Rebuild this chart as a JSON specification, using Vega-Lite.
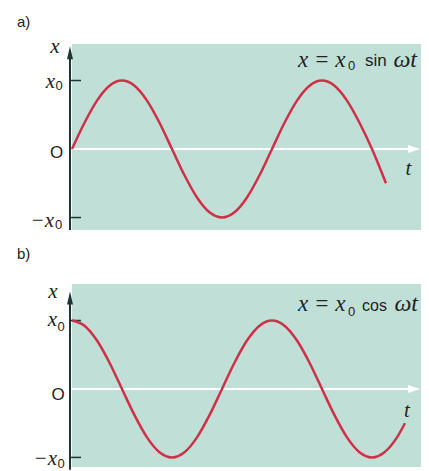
{
  "$schema": "https://vega.github.io/schema/vega-lite/v6.json",
  "padding": {"left": 10, "top": 5, "right": 8, "bottom": 0},
  "background": "white",
  "bounds": "flush",
  "spacing": 54,
  "config": {
    "view": {"fill": "#c0e0d7", "stroke": null}
  },
  "datasets": {
    "sine": [
      {"t": 0, "v": 0}, {"t": 0.25, "v": 0.383}, {"t": 0.5, "v": 0.707}, {"t": 0.75, "v": 0.924},
      {"t": 1, "v": 1}, {"t": 1.25, "v": 0.924}, {"t": 1.5, "v": 0.707}, {"t": 1.75, "v": 0.383},
      {"t": 2, "v": 0}, {"t": 2.25, "v": -0.383}, {"t": 2.5, "v": -0.707}, {"t": 2.75, "v": -0.924},
      {"t": 3, "v": -1}, {"t": 3.25, "v": -0.924}, {"t": 3.5, "v": -0.707}, {"t": 3.75, "v": -0.383},
      {"t": 4, "v": 0}, {"t": 4.25, "v": 0.383}, {"t": 4.5, "v": 0.707}, {"t": 4.75, "v": 0.924},
      {"t": 5, "v": 1}, {"t": 5.25, "v": 0.924}, {"t": 5.5, "v": 0.707}, {"t": 5.75, "v": 0.383},
      {"t": 6, "v": 0}, {"t": 6.28, "v": -0.5}
    ],
    "cosine": [
      {"t": 0, "v": 1}, {"t": 0.25, "v": 0.924}, {"t": 0.5, "v": 0.707}, {"t": 0.75, "v": 0.383},
      {"t": 1, "v": 0}, {"t": 1.25, "v": -0.383}, {"t": 1.5, "v": -0.707}, {"t": 1.75, "v": -0.924},
      {"t": 2, "v": -1}, {"t": 2.25, "v": -0.924}, {"t": 2.5, "v": -0.707}, {"t": 2.75, "v": -0.383},
      {"t": 3, "v": 0}, {"t": 3.25, "v": 0.383}, {"t": 3.5, "v": 0.707}, {"t": 3.75, "v": 0.924},
      {"t": 4, "v": 1}, {"t": 4.25, "v": 0.924}, {"t": 4.5, "v": 0.707}, {"t": 4.75, "v": 0.383},
      {"t": 5, "v": 0}, {"t": 5.25, "v": -0.383}, {"t": 5.5, "v": -0.707}, {"t": 5.75, "v": -0.924},
      {"t": 6, "v": -1}, {"t": 6.25, "v": -0.924}, {"t": 6.5, "v": -0.707}, {"t": 6.66, "v": -0.5}
    ]
  },
  "vconcat": [
    {
      "width": 349,
      "height": 186,
      "layer": [
        {
          "data": {"values": [{}]},
          "mark": {"type": "rule", "color": "#ffffff", "strokeWidth": 2},
          "encoding": {
            "x": {"datum": 0, "type": "quantitative", "scale": {"domain": [0, 6.98], "nice": false, "zero": false}, "axis": null},
            "x2": {"datum": 6.76},
            "y": {"datum": 0, "type": "quantitative", "scale": {"domain": [-1.182, 1.533], "nice": false, "zero": false}, "axis": null}
          }
        },
        {
          "data": {"values": [{}]},
          "mark": {"type": "rule", "color": "#ffffff", "opacity": 0, "strokeWidth": 1},
          "encoding": {"x": {"datum": -1.23, "type": "quantitative"}, "y": {"datum": -1.182, "type": "quantitative"}, "y2": {"datum": 2.095}}
        },
        {
          "data": {"values": [{}]},
          "mark": {"type": "point", "shape": "M-1,-0.67L1,0L-1,0.67Z", "size": 144, "filled": true, "color": "#ffffff", "opacity": 1},
          "encoding": {"x": {"datum": 6.84, "type": "quantitative"}, "y": {"datum": 0, "type": "quantitative"}}
        },
        {
          "data": {"values": [{}]},
          "mark": {"type": "rule", "color": "#1f3535", "strokeWidth": 2},
          "encoding": {"x": {"datum": -0.04, "type": "quantitative"}, "y": {"datum": -1.182, "type": "quantitative"}, "y2": {"datum": 1.42}}
        },
        {
          "data": {"values": [{"v": 1}, {"v": -1}]},
          "mark": {"type": "rule", "color": "#1f3535", "strokeWidth": 1.5},
          "encoding": {"x": {"datum": -0.04, "type": "quantitative"}, "x2": {"datum": 0.18}, "y": {"field": "v", "type": "quantitative"}}
        },
        {
          "data": {"values": [{}]},
          "mark": {"type": "point", "shape": "M0,-1L0.46,1L-0.46,1Z", "size": 169, "filled": true, "color": "#1f3535", "opacity": 1},
          "encoding": {"x": {"datum": -0.04, "type": "quantitative"}, "y": {"datum": 1.405, "type": "quantitative"}}
        },
        {
          "data": {"name": "sine"},
          "mark": {"type": "line", "color": "#cf3048", "strokeWidth": 2.5, "interpolate": "monotone"},
          "encoding": {"x": {"field": "t", "type": "quantitative"}, "y": {"field": "v", "type": "quantitative"}}
        },
        {
          "data": {"values": [{}]},
          "layer": [
            {"mark": {"type": "text", "text": "a)", "font": "Liberation Sans", "fontSize": 15, "align": "left", "baseline": "alphabetic", "color": "#222222"},
             "encoding": {"x": {"datum": -1.1, "type": "quantitative"}, "y": {"datum": 1.781, "type": "quantitative"}}},
            {"mark": {"type": "text", "text": "x", "font": "Liberation Serif", "fontStyle": "italic", "fontSize": 21, "align": "center", "baseline": "alphabetic", "color": "#222222"},
             "encoding": {"x": {"datum": -0.34, "type": "quantitative"}, "y": {"datum": 1.402, "type": "quantitative"}}},
            {"mark": {"type": "text", "text": "x", "font": "Liberation Serif", "fontStyle": "italic", "fontSize": 21, "align": "right", "baseline": "alphabetic", "color": "#222222"},
             "encoding": {"x": {"datum": -0.34, "type": "quantitative"}, "y": {"datum": 0.891, "type": "quantitative"}}},
            {"mark": {"type": "text", "text": "0", "font": "Liberation Sans", "fontSize": 13, "align": "left", "baseline": "alphabetic", "color": "#222222"},
             "encoding": {"x": {"datum": -0.33, "type": "quantitative"}, "y": {"datum": 0.861, "type": "quantitative"}}},
            {"mark": {"type": "text", "text": "O", "font": "Liberation Sans", "fontSize": 17, "align": "center", "baseline": "alphabetic", "color": "#222222"},
             "encoding": {"x": {"datum": -0.31, "type": "quantitative"}, "y": {"datum": -0.131, "type": "quantitative"}}},
            {"mark": {"type": "text", "text": "−x", "font": "Liberation Serif", "fontStyle": "italic", "fontSize": 21, "align": "right", "baseline": "alphabetic", "color": "#222222"},
             "encoding": {"x": {"datum": -0.36, "type": "quantitative"}, "y": {"datum": -1.139, "type": "quantitative"}}},
            {"mark": {"type": "text", "text": "0", "font": "Liberation Sans", "fontSize": 13, "align": "left", "baseline": "alphabetic", "color": "#222222"},
             "encoding": {"x": {"datum": -0.34, "type": "quantitative"}, "y": {"datum": -1.168, "type": "quantitative"}}},
            {"mark": {"type": "text", "text": "t", "font": "Liberation Serif", "fontStyle": "italic", "fontSize": 21, "align": "center", "baseline": "alphabetic", "color": "#222222"},
             "encoding": {"x": {"datum": 6.73, "type": "quantitative"}, "y": {"datum": -0.379, "type": "quantitative"}}},
            {"mark": {"type": "text", "text": "x = x", "font": "Liberation Serif", "fontStyle": "italic", "fontSize": 23, "align": "left", "baseline": "alphabetic", "color": "#222222"},
             "encoding": {"x": {"datum": 4.52, "type": "quantitative"}, "y": {"datum": 1.197, "type": "quantitative"}}},
            {"mark": {"type": "text", "text": "0", "font": "Liberation Sans", "fontSize": 13, "align": "left", "baseline": "alphabetic", "color": "#222222"},
             "encoding": {"x": {"datum": 5.52, "type": "quantitative"}, "y": {"datum": 1.153, "type": "quantitative"}}},
            {"mark": {"type": "text", "text": "sin", "font": "Liberation Sans", "fontSize": 17, "align": "left", "baseline": "alphabetic", "color": "#222222"},
             "encoding": {"x": {"datum": 5.86, "type": "quantitative"}, "y": {"datum": 1.21, "type": "quantitative"}}},
            {"mark": {"type": "text", "text": "ωt", "font": "Liberation Serif", "fontStyle": "italic", "fontSize": 24, "align": "right", "baseline": "alphabetic", "color": "#222222"},
             "encoding": {"x": {"datum": 6.9, "type": "quantitative"}, "y": {"datum": 1.197, "type": "quantitative"}}}
          ]
        }
      ]
    },
    {
      "width": 349,
      "height": 183,
      "layer": [
        {
          "data": {"values": [{}]},
          "mark": {"type": "rule", "color": "#ffffff", "strokeWidth": 2},
          "encoding": {
            "x": {"datum": 0, "type": "quantitative", "scale": {"domain": [0, 6.98], "nice": false, "zero": false}, "axis": null},
            "x2": {"datum": 6.76},
            "y": {"datum": 0, "type": "quantitative", "scale": {"domain": [-1.14, 1.533], "nice": false, "zero": false}, "axis": null}
          }
        },
        {
          "data": {"values": [{}]},
          "mark": {"type": "rule", "color": "#ffffff", "opacity": 0, "strokeWidth": 1},
          "encoding": {"x": {"datum": -1.23, "type": "quantitative"}, "y": {"datum": -1.197, "type": "quantitative"}, "y2": {"datum": 1.533}}
        },
        {
          "data": {"values": [{}]},
          "mark": {"type": "point", "shape": "M-1,-0.67L1,0L-1,0.67Z", "size": 144, "filled": true, "color": "#ffffff", "opacity": 1},
          "encoding": {"x": {"datum": 6.84, "type": "quantitative"}, "y": {"datum": 0, "type": "quantitative"}}
        },
        {
          "data": {"values": [{}]},
          "mark": {"type": "rule", "color": "#1f3535", "strokeWidth": 2},
          "encoding": {"x": {"datum": -0.04, "type": "quantitative"}, "y": {"datum": -1.18, "type": "quantitative"}, "y2": {"datum": 1.36}}
        },
        {
          "data": {"values": [{"v": 1}, {"v": -1}]},
          "mark": {"type": "rule", "color": "#1f3535", "strokeWidth": 1.5},
          "encoding": {"x": {"datum": -0.04, "type": "quantitative"}, "x2": {"datum": 0.18}, "y": {"field": "v", "type": "quantitative"}}
        },
        {
          "data": {"values": [{}]},
          "mark": {"type": "point", "shape": "M0,-1L0.46,1L-0.46,1Z", "size": 169, "filled": true, "color": "#1f3535", "opacity": 1},
          "encoding": {"x": {"datum": -0.04, "type": "quantitative"}, "y": {"datum": 1.33, "type": "quantitative"}}
        },
        {
          "data": {"name": "cosine"},
          "mark": {"type": "line", "color": "#cf3048", "strokeWidth": 2.5, "interpolate": "monotone"},
          "encoding": {"x": {"field": "t", "type": "quantitative"}, "y": {"field": "v", "type": "quantitative"}}
        },
        {
          "data": {"values": [{}]},
          "layer": [
            {"mark": {"type": "text", "text": "b)", "font": "Liberation Sans", "fontSize": 15, "align": "left", "baseline": "alphabetic", "color": "#222222"},
             "encoding": {"x": {"datum": -1.1, "type": "quantitative"}, "y": {"datum": 1.898, "type": "quantitative"}}},
            {"mark": {"type": "text", "text": "x", "font": "Liberation Serif", "fontStyle": "italic", "fontSize": 21, "align": "center", "baseline": "alphabetic", "color": "#222222"},
             "encoding": {"x": {"datum": -0.38, "type": "quantitative"}, "y": {"datum": 1.329, "type": "quantitative"}}},
            {"mark": {"type": "text", "text": "x", "font": "Liberation Serif", "fontStyle": "italic", "fontSize": 21, "align": "right", "baseline": "alphabetic", "color": "#222222"},
             "encoding": {"x": {"datum": -0.3, "type": "quantitative"}, "y": {"datum": 0.923, "type": "quantitative"}}},
            {"mark": {"type": "text", "text": "0", "font": "Liberation Sans", "fontSize": 13, "align": "left", "baseline": "alphabetic", "color": "#222222"},
             "encoding": {"x": {"datum": -0.29, "type": "quantitative"}, "y": {"datum": 0.85, "type": "quantitative"}}},
            {"mark": {"type": "text", "text": "O", "font": "Liberation Sans", "fontSize": 17, "align": "center", "baseline": "alphabetic", "color": "#222222"},
             "encoding": {"x": {"datum": -0.28, "type": "quantitative"}, "y": {"datum": -0.16, "type": "quantitative"}}},
            {"mark": {"type": "text", "text": "−x", "font": "Liberation Serif", "fontStyle": "italic", "fontSize": 21, "align": "right", "baseline": "alphabetic", "color": "#222222"},
             "encoding": {"x": {"datum": -0.3, "type": "quantitative"}, "y": {"datum": -1.109, "type": "quantitative"}}},
            {"mark": {"type": "text", "text": "0", "font": "Liberation Sans", "fontSize": 13, "align": "left", "baseline": "alphabetic", "color": "#222222"},
             "encoding": {"x": {"datum": -0.29, "type": "quantitative"}, "y": {"datum": -1.153, "type": "quantitative"}}},
            {"mark": {"type": "text", "text": "t", "font": "Liberation Serif", "fontStyle": "italic", "fontSize": 21, "align": "center", "baseline": "alphabetic", "color": "#222222"},
             "encoding": {"x": {"datum": 6.7, "type": "quantitative"}, "y": {"datum": -0.409, "type": "quantitative"}}},
            {"mark": {"type": "text", "text": "x = x", "font": "Liberation Serif", "fontStyle": "italic", "fontSize": 23, "align": "left", "baseline": "alphabetic", "color": "#222222"},
             "encoding": {"x": {"datum": 4.52, "type": "quantitative"}, "y": {"datum": 1.139, "type": "quantitative"}}},
            {"mark": {"type": "text", "text": "0", "font": "Liberation Sans", "fontSize": 13, "align": "left", "baseline": "alphabetic", "color": "#222222"},
             "encoding": {"x": {"datum": 5.52, "type": "quantitative"}, "y": {"datum": 1.066, "type": "quantitative"}}},
            {"mark": {"type": "text", "text": "cos", "font": "Liberation Sans", "fontSize": 16, "align": "left", "baseline": "alphabetic", "color": "#222222"},
             "encoding": {"x": {"datum": 5.8, "type": "quantitative"}, "y": {"datum": 1.139, "type": "quantitative"}}},
            {"mark": {"type": "text", "text": "ωt", "font": "Liberation Serif", "fontStyle": "italic", "fontSize": 24, "align": "right", "baseline": "alphabetic", "color": "#222222"},
             "encoding": {"x": {"datum": 6.92, "type": "quantitative"}, "y": {"datum": 1.139, "type": "quantitative"}}}
          ]
        }
      ]
    }
  ]
}
